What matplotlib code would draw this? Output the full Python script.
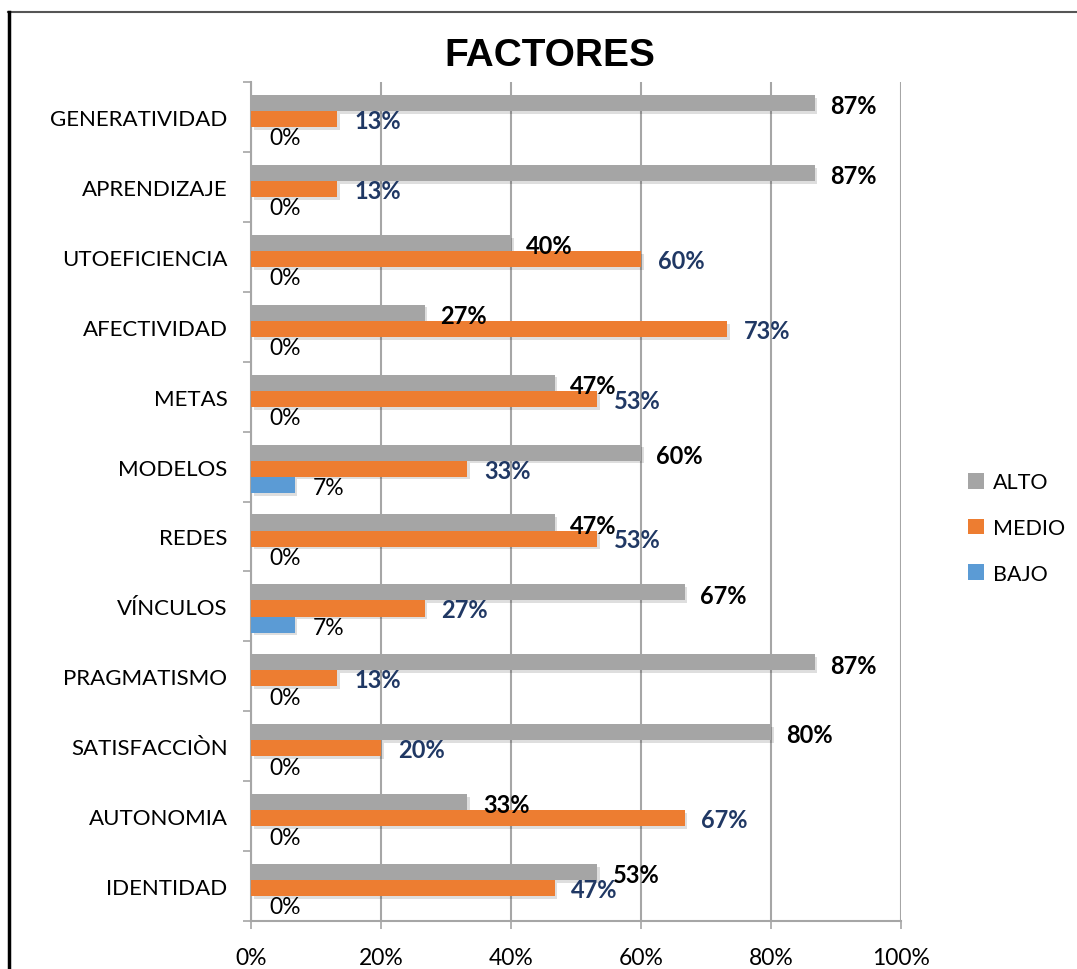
import matplotlib
matplotlib.use("Agg")
import matplotlib.pyplot as plt
import matplotlib.patheffects as pe
from matplotlib.lines import Line2D
from matplotlib.patches import Patch
import numpy as np

# data, bottom to top as drawn
categories = ["IDENTIDAD", "AUTONOMIA", "SATISFACCIÒN", "PRAGMATISMO", "VÍNCULOS",
              "REDES", "MODELOS", "METAS", "AFECTIVIDAD", "UTOEFICIENCIA",
              "APRENDIZAJE", "GENERATIVIDAD"]
alto = [53.3, 33.3, 80.0, 86.7, 66.7, 46.7, 60.0, 46.7, 26.7, 40.0, 86.7, 86.7]
medio = [46.7, 66.7, 20.0, 13.3, 26.7, 53.3, 33.3, 53.3, 73.3, 60.0, 13.3, 13.3]
bajo = [0.0, 0.0, 0.0, 0.0, 6.7, 0.0, 6.7, 0.0, 0.0, 0.0, 0.0, 0.0]
series_names = ["ALTO", "MEDIO", "BAJO"]

colors = ["#A5A5A5", "#ED7D31", "#5B9BD5"]
label_colors = ["black", "#203864", "black"]
label_weights = ["bold", "bold", "normal"]
label_sizes = [17, 17, 16.5]
label_offsets = [(11, -2), (12, -1), (13, -2)]

plt.rcParams["font.family"] = ["Lato", "DejaVu Sans"]

fig = plt.figure(figsize=(10.77, 9.70), dpi=100)
ax = fig.add_axes([0.2331, 0.0495, 0.8366 - 0.2331, 0.9144 - 0.0495])

y = np.arange(len(categories))
h = 0.23
shift = -0.03
shadow = [pe.SimplePatchShadow(offset=(2, -2), shadow_rgbFace="black", alpha=0.13), pe.Normal()]

for k, vals in enumerate([alto, medio, bajo]):
    pos = y + shift + (1 - k) * h
    bars = ax.barh(pos, vals, height=h, color=colors[k], zorder=3, label=series_names[k])
    for b in bars:
        b.set_path_effects(shadow)
    for v, p in zip(vals, pos):
        ax.annotate(f"{v:.0f}%", (v, p), xytext=label_offsets[k], textcoords="offset points",
                    ha="left", va="center", fontsize=label_sizes[k], color=label_colors[k],
                    fontweight=label_weights[k], zorder=5)

ax.set_xlim(0, 100)
ax.set_ylim(-0.5, len(categories) - 0.5)
ax.set_xticks(np.arange(0, 101, 20))
ax.set_xticklabels([f"{t}%" for t in range(0, 101, 20)], fontsize=16.5)
ax.set_yticks(y)
ax.set_yticklabels(categories, fontsize=16)
ax.set_yticks(np.arange(-0.5, len(categories), 1), minor=True)
ax.tick_params(axis="y", which="major", length=0, pad=17)
ax.tick_params(axis="y", which="minor", length=6, width=1.2, color="#A6A6A6", direction="out")
ax.tick_params(axis="x", length=6, width=1.2, color="#A6A6A6", direction="out", pad=13)

ax.grid(axis="x", color="#A6A6A6", linewidth=1.5, zorder=0)
for side in ["top", "right"]:
    ax.spines[side].set_visible(False)
for side in ["left", "bottom"]:
    ax.spines[side].set_color("#A6A6A6")
    ax.spines[side].set_linewidth(1.5)

handles = [Patch(facecolor=c) for c in colors]
fig.legend(handles, series_names, loc="center left", bbox_to_anchor=(0.889, 0.4546),
           frameon=False, fontsize=15.5, handlelength=0.75, handleheight=0.75,
           handletextpad=0.4, labelspacing=1.2, borderpad=0)

fig.text(0.5107, 0.942, "FACTORES", ha="center", va="center", fontsize=28,
         fontweight="bold", family="Liberation Sans")

# outer frame lines (top and left)
fig.add_artist(Line2D([8 / 1077, 1.0], [1 - 13 / 970] * 2, color="#555555", linewidth=1.5))
fig.add_artist(Line2D([9 / 1077] * 2, [0, 1 - 13 / 970], color="black", linewidth=2.5))

fig.savefig("out.png", dpi=100)
